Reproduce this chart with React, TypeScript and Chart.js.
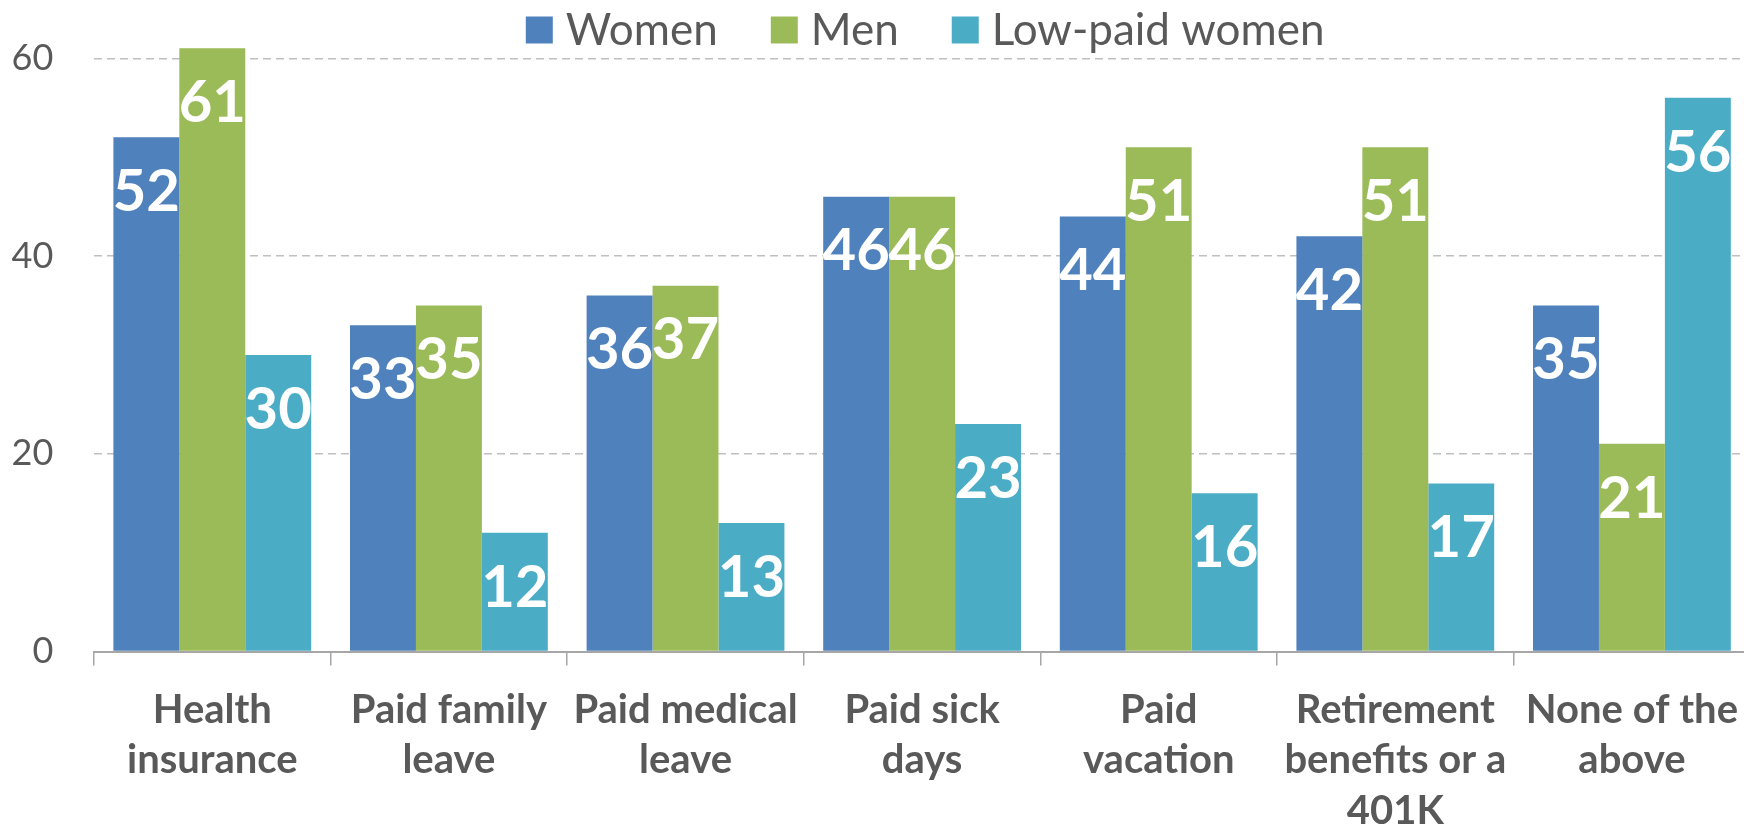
import React, { useEffect, useRef } from "react";
import { Chart, registerables } from "chart.js";

Chart.register(...registerables);

const categories: string[][] = [
  ["Health", "insurance"],
  ["Paid family", "leave"],
  ["Paid medical", "leave"],
  ["Paid sick", "days"],
  ["Paid", "vacation"],
  ["Retirement", "benefits or a", "401K"],
  ["None of the", "above"],
];
const seriesNames = ["Women", "Men", "Low-paid women"];
const women = [52, 33, 36, 46, 44, 42, 35];
const men = [61, 35, 37, 46, 51, 51, 21];
const lowPaidWomen = [30, 12, 13, 23, 16, 17, 56];
const yTicks = [0, 20, 40, 60];

const COLORS = ["#4F81BD", "#9BBB59", "#4BACC6"];
const TEXT = "#595959";
const FONT = "Lato, 'Open Sans', 'Noto Sans', sans-serif";

const dataLabelPlugin = {
  id: "dataLabels",
  afterDatasetsDraw(chart: any) {
    const ctx = chart.ctx;
    ctx.save();
    ctx.fillStyle = "#FFFFFF";
    ctx.font = `bold 58px ${FONT}`;
    ctx.textAlign = "center";
    ctx.textBaseline = "middle";
    chart.data.datasets.forEach((ds: any, i: number) => {
      const meta = chart.getDatasetMeta(i);
      meta.data.forEach((bar: any, j: number) => {
        ctx.fillText(String(ds.data[j]), bar.x, bar.y + 55);
      });
    });
    ctx.restore();
  },
};

const legendPlugin = {
  id: "customLegend",
  afterDraw(chart: any) {
    const ctx = chart.ctx;
    const area = chart.chartArea;
    ctx.save();
    ctx.font = `44px ${FONT}`;
    ctx.textBaseline = "middle";
    ctx.textAlign = "left";
    const box = 27;
    const gap = 13;
    const itemGap = 53;
    const widths = seriesNames.map((n) => ctx.measureText(n).width);
    const total = widths.reduce((a, w) => a + box + gap + w, 0) + itemGap * (seriesNames.length - 1);
    let x = (area.left + area.right) / 2 + 3 - total / 2;
    const cy = 30;
    seriesNames.forEach((n, i) => {
      ctx.fillStyle = COLORS[i];
      ctx.fillRect(x, cy - box / 2, box, box);
      x += box + gap;
      ctx.fillStyle = TEXT;
      ctx.fillText(n, x, cy + 1);
      x += widths[i] + itemGap;
    });
    ctx.restore();
  },
};

export default function App() {
  const ref = useRef<HTMLCanvasElement>(null);
  useEffect(() => {
    if (!ref.current) return;
    const chart = new Chart(ref.current, {
      type: "bar",
      data: {
        labels: categories,
        datasets: [
          { label: seriesNames[0], data: women, backgroundColor: COLORS[0] },
          { label: seriesNames[1], data: men, backgroundColor: COLORS[1] },
          { label: seriesNames[2], data: lowPaidWomen, backgroundColor: COLORS[2] },
        ],
      },
      options: {
        responsive: false,
        animation: false,
        devicePixelRatio: 1,
        layout: { padding: { top: 28.6, left: 0, right: 0, bottom: 0 } },
        datasets: { bar: { categoryPercentage: 0.836, barPercentage: 1 } },
        plugins: { legend: { display: false }, tooltip: { enabled: false } },
        scales: {
          x: {
            grid: {
              offset: true,
              drawOnChartArea: false,
              drawTicks: true,
              tickLength: 14,
              color: "#A6A6A6",
              lineWidth: 1.5,
            },
            border: { display: true, color: "#A6A6A6", width: 2 },
            ticks: {
              color: TEXT,
              font: { family: FONT, size: 40, weight: "bold", lineHeight: "50.5px" as any },
              padding: 19,
              maxRotation: 0,
              autoSkip: false,
            },
            afterFit: (s: any) => {
              s.height = 174.5;
            },
          },
          y: {
            min: 0,
            max: 63,
            afterBuildTicks: (s: any) => {
              s.ticks = yTicks.map((v) => ({ value: v }));
            },
            grid: {
              drawTicks: true,
              tickLength: 40.7,
              tickColor: "rgba(0,0,0,0)",
              color: (c: any) => (c.tick && c.tick.value === 0 ? "rgba(0,0,0,0)" : "#BFBFBF"),
              lineWidth: 1.5,
            },
            border: { display: false, dash: [8, 5] },
            ticks: {
              color: TEXT,
              font: { family: FONT, size: 36 },
              padding: 0,
            },
            afterFit: (s: any) => {
              s.width = 94;
            },
          },
        },
      },
      plugins: [dataLabelPlugin, legendPlugin],
    });
    return () => chart.destroy();
  }, []);
  return (
    <div
      style={{
        position: "fixed",
        left: 0,
        top: 0,
        width: 1744,
        height: 826,
        overflow: "hidden",
        background: "#FFFFFF",
      }}
    >
      <canvas ref={ref} width={1757} height={826} style={{ width: 1757, height: 826, display: "block" }} />
    </div>
  );
}
